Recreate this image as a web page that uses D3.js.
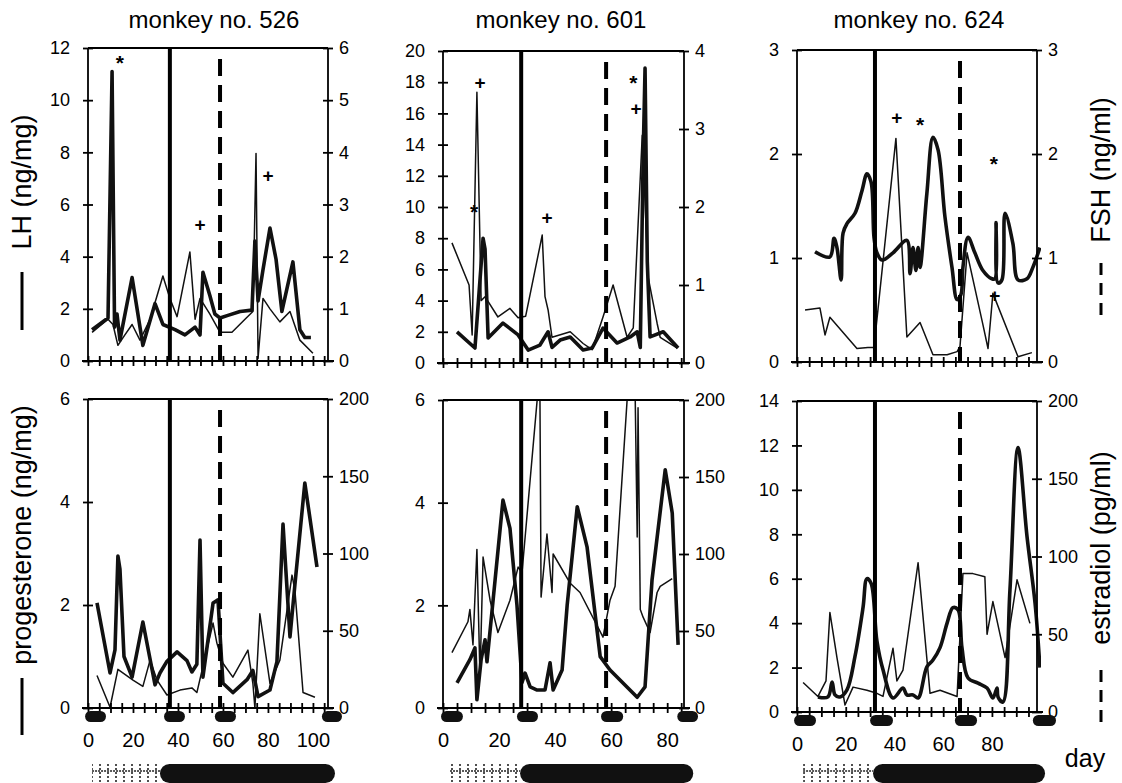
<!DOCTYPE html>
<html>
<head>
<meta charset="utf-8">
<script src="https://cdn.jsdelivr.net/npm/d3@7"></script>
<style>
  body { margin: 0; background: #fff; }
  svg text { font-family: 'Liberation Sans', Arial, Helvetica, sans-serif; fill: #000; }
</style>
</head>
<body>
<svg id="chart" width="1122" height="783"></svg>
<script>
// ---- values: [day, value] ----
const lh526 = [[1.8,1.2],[8.9,1.65],[10.7,11.1],[11.8,1.3],[12.9,1.8],[14.2,0.8],[19.6,3.2],[24.4,0.6],[29.8,2.2],[33.3,1.4],[38.7,1.2],[43.1,1.0],[47.6,1.3],[49.8,1.0],[51.1,3.4],[54.2,2.5],[56.4,1.8],[58.7,1.65],[62.2,1.75],[67.6,1.9],[72.9,1.95],[74.2,4.6],[75.6,2.3],[77.8,3.5],[80.9,5.1],[83.6,3.9],[86.2,1.9],[91.1,3.8],[94.2,1.2],[96.4,0.9],[99.1,0.9]]
const fsh526 = [[1.8,0.55],[8.9,0.8],[11.1,0.7],[13.3,0.3],[16.4,0.5],[19.6,0.7],[23.1,0.4],[27.6,0.8],[33.3,1.63],[36.4,1.2],[39.6,0.85],[45.3,2.09],[47.6,0.8],[49.8,1.2],[54.2,0.9],[58.7,0.55],[64,0.55],[69.8,0.8],[73.3,0.95],[74.7,3.98],[75.6,0.05],[77.8,1.2],[80.9,1.0],[85.3,0.75],[89.8,0.95],[94.2,0.4],[100,0.15]]
const prog526 = [[4,2.04],[9.8,0.68],[12,1.13],[13.3,2.95],[14.2,2.7],[16,1.0],[19.6,0.6],[24.4,1.67],[29.8,0.45],[32,0.68],[35,0.9],[39.6,1.09],[44,0.92],[46.2,0.7],[48.4,0.85],[49.8,3.26],[51.1,0.6],[55.6,2.04],[57.8,2.1],[60,0.48],[64.4,0.3],[70.7,0.55],[73.3,0.73],[75.6,0.22],[80.9,0.35],[84,0.9],[86.7,3.57],[89.8,1.38],[92,2.4],[96.4,4.37],[101.8,2.74]]
const e2_526 = [[4,21],[9.8,0.5],[13.3,25],[20,18],[24.4,14],[27.6,31],[30.7,18],[35.1,8.4],[40.9,11.6],[46.2,13],[48.4,10],[55.6,55],[57.3,42],[60,29],[64.4,20],[71.1,37.5],[73.3,16],[74.2,0],[76.4,61],[80.9,16],[85.3,31],[90.7,86],[92,76],[95.6,10],[100.9,7]]

const lh601 = [[5,2.0],[11.4,0.96],[14.3,8.0],[15,7.3],[16.1,1.6],[21.4,2.56],[26.8,1.8],[30.4,0.83],[34.6,1.15],[37.5,2.0],[38.9,1.0],[41.8,1.47],[45.4,1.67],[50,0.83],[53.2,0.96],[57.1,2.24],[62.1,1.28],[66.8,1.67],[69.3,2.0],[70.4,1.0],[71.4,13],[72.1,18.9],[72.9,6.5],[73.9,1.67],[78.6,2.0],[83.9,0.96]]
const fsh601 = [[3.2,1.54],[9.3,1.0],[10.4,0.36],[12.1,3.47],[13.6,0.8],[15,0.85],[19.6,0.59],[23.9,0.7],[26.8,0.58],[29.5,0.6],[35.4,1.64],[36.4,0.85],[37.5,0.68],[38.9,0.33],[45.4,0.4],[50,0.25],[53.2,0.17],[57.1,0.59],[60.7,1.0],[65.7,0.33],[67.9,0.45],[71.1,2.92],[73.2,1.1],[76.4,0.51],[77.5,0.33],[83.6,0.19]]
const prog601 = [[5,0.49],[9.6,0.94],[11.4,1.17],[12.1,0.16],[13.6,0.94],[15,1.33],[15.7,0.9],[18.6,2.5],[21.4,4.05],[23.9,3.5],[26.4,2.0],[28.2,0.5],[29.3,0.68],[31.1,0.41],[33.6,0.35],[36.4,0.35],[38.2,0.88],[39.3,0.35],[42.5,0.74],[44.3,2.0],[47.9,3.92],[51.4,3.14],[56.1,1.0],[59.6,0.74],[69.3,0.21],[72.1,0.41],[74.6,2.5],[79.3,4.64],[81.8,3.8],[83.9,1.23]]
const e2_601 = [[3.2,36],[8.9,56],[9.6,64],[10.7,41],[12.1,103],[13.2,20],[14.3,98],[16.8,70],[19.6,49],[23.9,70],[26.8,91.5],[28.2,88],[33.6,200],[34.6,200],[35,72],[37.1,113],[38.9,75],[39.3,100],[45.4,81],[48.9,75],[57.1,46],[59.6,70],[61.4,79],[65.7,200],[68.6,200],[69.3,111],[69.6,195],[70.4,64],[71.4,59],[73.9,49],[76.4,75],[77.5,79],[81.8,84]]

const lh624 = [[7.4,1.06],[13.5,1.01],[15.2,1.19],[16.4,1.1],[18.1,0.79],[18.9,1.24],[20.5,1.33],[23.8,1.43],[26.7,1.65],[28.7,1.81],[30.4,1.73],[31.6,1.2],[32.8,1.05],[34.9,0.98],[39.4,1.05],[45.1,1.17],[46.4,0.85],[47.6,1.1],[48.8,0.88],[49.7,1.1],[50.5,0.91],[53.3,1.62],[55.8,2.16],[57.9,2.04],[60.7,1.4],[63.6,0.91],[65.7,0.6],[67.3,0.65],[68.1,0.91],[70.2,1.2],[73,1.05],[76.3,0.88],[80,0.8],[81.2,0.8],[81.7,1.34],[82.5,0.76],[84.1,0.79],[85.4,1.43],[88.6,1.14],[90.7,0.79],[94.4,0.8],[96.8,0.91],[99.7,1.1]]
const fsh624 = [[3.3,0.5],[9.4,0.52],[11.5,0.26],[13.5,0.43],[24.6,0.13],[29.1,0.14],[31.6,0.14],[40.6,2.15],[45.1,0.24],[50.5,0.38],[55.8,0.07],[61.6,0.07],[65.7,0.1],[66.9,0.15],[69.8,1.05],[76.3,0.36],[78.4,0.13],[80.4,0.66],[90.7,0.05],[96.4,0.09]]
const prog624 = [[8.6,0.68],[12.7,0.68],[14.4,1.35],[15.6,0.77],[17.6,0.68],[20.5,1.0],[23.8,2.5],[27.1,4.7],[28.7,6.0],[30.4,5.8],[32.8,3.2],[35.3,1.9],[39.4,0.63],[43.5,1.08],[45.1,0.77],[47.6,0.77],[49.7,0.63],[53.3,2.03],[55.8,2.34],[58.7,2.9],[61.6,4.0],[64,4.7],[66.1,4.6],[67.7,2.9],[70.2,1.53],[74.3,1.3],[78,1.08],[80.4,0.63],[82.1,1.08],[82.5,0.68],[84.5,0.45],[87.4,5.5],[90.7,11.9],[94.4,7.9],[97.7,4.9],[99.7,2.0]]
const e2_624 = [[2.5,19],[8.6,10],[11.9,20],[13.5,64],[16.4,35],[19.7,4.5],[23,16],[28.7,14],[32.8,12],[35.3,10],[39.4,41],[41,20],[43.5,27],[49.7,96],[54.6,12],[58.7,14],[65.7,10],[68.1,89],[72.2,89],[77.1,87],[78,50],[80.4,71],[85.4,35],[90.3,85],[95.6,57]]

// significance marks: [day, LH value, symbol]
const marks526 = [[14.2,11.46,'*'],[49.8,5.25,'+'],[80,7.13,'+']]
const marks601 = [[13.2,18.0,'+'],[11.1,9.7,'*'],[37.1,9.3,'+'],[67.9,18.0,'*'],[68.9,16.3,'+']]
const marks624 = [[41,2.35,'+'],[50.5,2.28,'*'],[80.8,1.91,'*'],[81.2,0.64,'+']]

// event days: solid line, dashed line
const events = { '526': [36.4, 58.7], '601': [27.9, 58.2], '624': [32, 66.9] }
// bleeding episodes under the x axis: [start day, end day]
const pills = {
  '526': [[-1.3,8],[33.8,43.1],[56.4,65.8],[104,112.9]],
  '601': [[-0.7,7.1],[26.4,33.9],[56.4,64.3],[83.6,91]],
  '624': [[-1.2,7.8],[30,39.4],[64.8,73.9],[96.8,106.3]]
}
// treatment bar: [hatched start, black start, end]
const bars = { '526': [1.8, 32, 109.8], '601': [2.5, 27.5, 89.3], '624': [2.5, 31.2, 101.8] }

const monkeys = ['526', '601', '624']
const lhMax = [12, 20, 3], lhStep = [2, 2, 1]
const fshMax = [6, 4, 3]
const progMax = [6, 6, 14]
const e2Max = [200, 200, 200]

const series = {
  '526': { lh: lh526, fsh: fsh526, prog: prog526, e2: e2_526, marks: marks526 },
  '601': { lh: lh601, fsh: fsh601, prog: prog601, e2: e2_601, marks: marks601 },
  '624': { lh: lh624, fsh: fsh624, prog: prog624, e2: e2_624, marks: marks624 }
}

// ---- layout ----
const cols = [
  { left: 88,  right: 328,  xMax: 106.7, top: [48, 361], bot: [399, 708], titleX: 214, smooth: false },
  { left: 443, right: 684,  xMax: 86,    top: [51, 363], bot: [400, 708], titleX: 561, smooth: false },
  { left: 797, right: 1037, xMax: 98.5,  top: [50, 362], bot: [401, 712], titleX: 919, smooth: true }
]

const svg = d3.select('#chart')
const defs = svg.append('defs')
const pat = defs.append('pattern').attr('id', 'hatch').attr('patternUnits', 'userSpaceOnUse')
  .attr('width', 8).attr('height', 20)
pat.append('line').attr('x1', 4).attr('x2', 4).attr('y1', 0).attr('y2', 20)
  .attr('stroke', '#222').attr('stroke-width', 1.6).attr('stroke-dasharray', '2,2')

function crossTicks(g, vertical) {
  g.selectAll('.tick line')
    .attr(vertical ? 'y1' : 'x1', -5)
    .attr(vertical ? 'y2' : 'x2', 5)
    .attr('stroke', '#000').attr('stroke-width', 1.8)
}

function drawPanel(i, row) {
  const c = cols[i]
  const id = monkeys[i]
  const s = series[id]
  const [y0, y1] = row === 0 ? c.top : c.bot
  const x = d3.scaleLinear().domain([0, c.xMax]).range([c.left, c.right])
  const yL = d3.scaleLinear().domain([0, row === 0 ? lhMax[i] : progMax[i]]).range([y1, y0])
  const yR = d3.scaleLinear().domain([0, row === 0 ? fshMax[i] : e2Max[i]]).range([y1, y0])
  const thick = row === 0 ? s.lh : s.prog
  const thin = row === 0 ? s.fsh : s.e2

  const g = svg.append('g')
  const clipId = 'clip' + id + row
  defs.append('clipPath').attr('id', clipId).append('rect')
    .attr('x', c.left - 4).attr('y', y0).attr('width', c.right - c.left + 8).attr('height', y1 - y0)

  const plot = g.append('g').attr('clip-path', `url(#${clipId})`)
  plot.append('path').datum(thin)
    .attr('d', d3.line().x(d => x(d[0])).y(d => yR(d[1])))
    .attr('fill', 'none').attr('stroke', '#111').attr('stroke-width', 1.5).attr('stroke-linejoin', 'round')
  plot.append('path').datum(thick)
    .attr('d', d3.line().curve(c.smooth ? d3.curveCatmullRom.alpha(0.5) : d3.curveLinear)
      .x(d => x(d[0])).y(d => yL(d[1])))
    .attr('fill', 'none').attr('stroke', '#111').attr('stroke-width', 3.6).attr('stroke-linejoin', 'round')

  // event lines
  const [solidDay, dashDay] = events[id]
  g.append('line').attr('x1', x(solidDay)).attr('x2', x(solidDay)).attr('y1', y0).attr('y2', y1)
    .attr('stroke', '#000').attr('stroke-width', 4)
  g.append('line').attr('x1', x(dashDay)).attr('x2', x(dashDay)).attr('y1', y0 + 11).attr('y2', y1)
    .attr('stroke', '#000').attr('stroke-width', 4).attr('stroke-dasharray', '17,9')

  // axes
  const ya = g.append('g').attr('transform', `translate(${c.left},0)`)
    .call(d3.axisLeft(yL).tickValues(d3.range(0, yL.domain()[1] + 0.001, row === 0 ? lhStep[i] : 2))
      .tickFormat(d3.format('d')).tickSize(5).tickPadding(13))
  const yb = g.append('g').attr('transform', `translate(${c.right},0)`)
    .call(d3.axisRight(yR).tickValues(d3.range(0, yR.domain()[1] + 0.001, row === 0 ? 1 : 50))
      .tickFormat(d3.format('d')).tickSize(5).tickPadding(6))
  const xa = g.append('g').attr('transform', `translate(0,${y1})`)
    .call(d3.axisBottom(x).tickValues(d3.range(0, c.xMax, 5)).tickSize(5).tickPadding(20)
      .tickFormat(d => (row === 1 && d % 20 === 0) ? d : ''))
  ;[ya, yb, xa].forEach(a => {
    a.select('.domain').remove()
    a.selectAll('text').style('font-size', '18px')
  })
  xa.selectAll('text').style('font-size', '20px')
  crossTicks(ya, false); crossTicks(yb, false); crossTicks(xa, true)

  // frame
  const frame = [[c.left, y0, c.right, y0], [c.left, y0, c.left, y1], [c.right, y0, c.right, y1], [c.left - 6, y1, c.right + 6, y1]]
  g.selectAll('.frame').data(frame).join('line')
    .attr('x1', d => d[0]).attr('y1', d => d[1]).attr('x2', d => d[2]).attr('y2', d => d[3])
    .attr('stroke', '#000').attr('stroke-width', 1.8)

  if (row === 0) {
    g.selectAll('.mark').data(s.marks).join('text')
      .attr('x', d => x(d[0])).attr('y', d => yL(d[1]))
      .attr('text-anchor', 'middle').attr('dominant-baseline', 'central')
      .style('font-size', d => d[2] === '*' ? '21px' : '19px').style('font-weight', 'bold')
      .text(d => d[2])
  } else {
    g.selectAll('.pill').data(pills[id]).join('rect')
      .attr('x', d => x(d[0])).attr('width', d => x(d[1]) - x(d[0]))
      .attr('y', y1 + 3).attr('height', 11).attr('rx', 5.5)
      .attr('fill', '#111')
    const [h0, b0, b1] = bars[id]
    g.append('rect').attr('x', x(h0)).attr('width', x(b0) - x(h0)).attr('y', 764).attr('height', 19)
      .attr('fill', 'url(#hatch)')
    g.append('line').attr('x1', x(h0)).attr('x2', x(b0)).attr('y1', 771).attr('y2', 771)
      .attr('stroke', '#222').attr('stroke-width', 1.4).attr('stroke-dasharray', '2,1')
    g.append('rect').attr('x', x(b0)).attr('width', x(b1) - x(b0)).attr('y', 764).attr('height', 19)
      .attr('rx', 9.5).attr('fill', '#111')
  }
}

monkeys.forEach((id, i) => {
  drawPanel(i, 0)
  drawPanel(i, 1)
  svg.append('text').attr('x', cols[i].titleX).attr('y', 28).attr('text-anchor', 'middle')
    .style('font-size', '24px').text('monkey no. ' + id)
})

// axis titles
const rotLabel = (x, y, txt) => svg.append('text')
  .attr('transform', `translate(${x},${y}) rotate(-90)`)
  .attr('text-anchor', 'middle').attr('dominant-baseline', 'central')
  .style('font-size', '27px').text(txt)
rotLabel(22, 182, 'LH (ng/mg)')
rotLabel(22, 535, 'progesterone (ng/mg)')
rotLabel(1101, 170, 'FSH (ng/ml)')
rotLabel(1101, 548, 'estradiol (pg/ml)')
svg.append('line').attr('x1', 22).attr('x2', 22).attr('y1', 272).attr('y2', 330).attr('stroke', '#000').attr('stroke-width', 3)
svg.append('line').attr('x1', 22).attr('x2', 22).attr('y1', 678).attr('y2', 735).attr('stroke', '#000').attr('stroke-width', 3)
svg.append('line').attr('x1', 1101).attr('x2', 1101).attr('y1', 263).attr('y2', 321).attr('stroke', '#000').attr('stroke-width', 3).attr('stroke-dasharray', '12,8')
svg.append('line').attr('x1', 1101).attr('x2', 1101).attr('y1', 670).attr('y2', 722).attr('stroke', '#000').attr('stroke-width', 3).attr('stroke-dasharray', '12,8')
svg.append('text').attr('x', 1085).attr('y', 767).attr('text-anchor', 'middle').style('font-size', '25px').text('day')
</script>
</body>
</html>
